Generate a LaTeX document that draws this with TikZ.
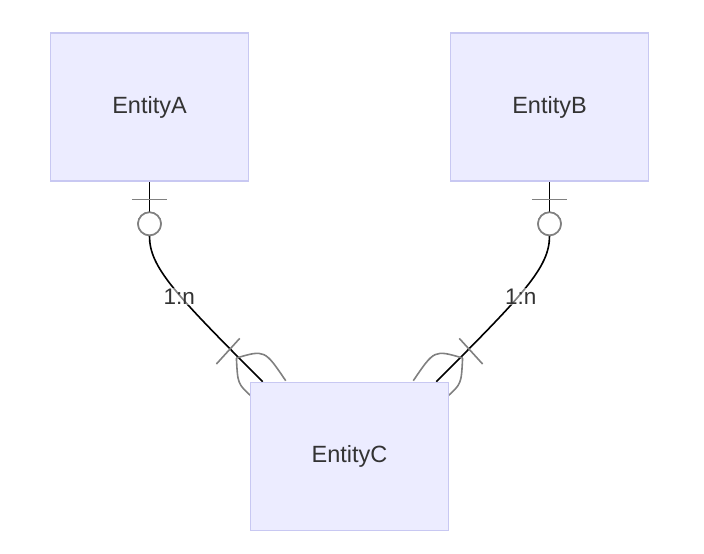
\documentclass[tikz,border=0pt]{standalone}
\usepackage{fontspec}
\setmainfont{Liberation Sans}
\usetikzlibrary{calc,backgrounds}
\definecolor{boxfill}{HTML}{ECECFF}
\definecolor{boxline}{HTML}{C8C8F2}
\definecolor{txt}{HTML}{333333}
\definecolor{mark}{HTML}{808080}
\begin{document}
\begin{tikzpicture}[x=1pt,y=-1pt,
  entity/.style={draw=boxline,fill=boxfill,line width=1.6pt,minimum width=198pt,minimum height=148pt,inner sep=0pt,text=txt,font=\fontsize{23.5}{28}\selectfont},
  rel/.style={draw=black,line width=1.6pt},
  mk/.style={draw=mark,line width=1.6pt},
  ring/.style={circle,draw=mark,fill=white,line width=1.6pt,minimum size=23pt,inner sep=0pt},
  lbl/.style={text=txt,font=\fontsize{22.5}{26}\selectfont,fill=white,fill opacity=0.5,text opacity=1,inner sep=1pt}]
\useasboundingbox (0,0) rectangle (704,554);
\node[entity] (a) at (149.5,107) {EntityA};
\node[entity] (b) at (549.5,107) {EntityB};
\node[entity] (c) at (349.5,456.5) {EntityC};
\begin{scope}[on background layer]
  % left relation
  \coordinate (ea) at ($(c.north west)+(13,0)$);
  \node[ring] (ra) at ($(a.south)+(0,42)$) {};
  \draw[rel] (a.south) -- (ra.north);
  \draw[rel] (ra.south) .. controls +(0,31) and ($(ea)+(-88,-88)$) .. (ea);
  \draw[mk] ($(a.south)+(-17.7,17.7)$) -- ($(a.south)+(17.7,17.7)$);
  \draw[mk] ($(ea)+(-46.3,-17.7)$) -- ($(ea)+(-23,-43.3)$);
  \draw[mk] ($(ea)+(-26.3,-23.7)$) .. controls ($(ea)+(2,-32)$) .. ($(ea)+(23,-1)$);
  \draw[mk] ($(ea)+(-26.3,-23.7)$) .. controls ($(ea)+(-25,2)$) .. ($(ea)+(-12,14)$);
  % right relation
  \coordinate (eb) at ($(c.north east)+(-13,0)$);
  \node[ring] (rb) at ($(b.south)+(0,42)$) {};
  \draw[rel] (b.south) -- (rb.north);
  \draw[rel] (rb.south) .. controls +(0,31) and ($(eb)+(88,-88)$) .. (eb);
  \draw[mk] ($(b.south)+(-17.7,17.7)$) -- ($(b.south)+(17.7,17.7)$);
  \draw[mk] ($(eb)+(46.3,-17.7)$) -- ($(eb)+(23,-43.3)$);
  \draw[mk] ($(eb)+(26.3,-23.7)$) .. controls ($(eb)+(-2,-32)$) .. ($(eb)+(-23,-1)$);
  \draw[mk] ($(eb)+(26.3,-23.7)$) .. controls ($(eb)+(25,2)$) .. ($(eb)+(12,14)$);
\end{scope}
\node[ring] at (ra) {};
\node[ring] at (rb) {};
\node[lbl] (la) at (179.3,296.7) {1:n};
\node[lbl] (lb) at (520.7,296.7) {1:n};
\end{tikzpicture}
\end{document}
